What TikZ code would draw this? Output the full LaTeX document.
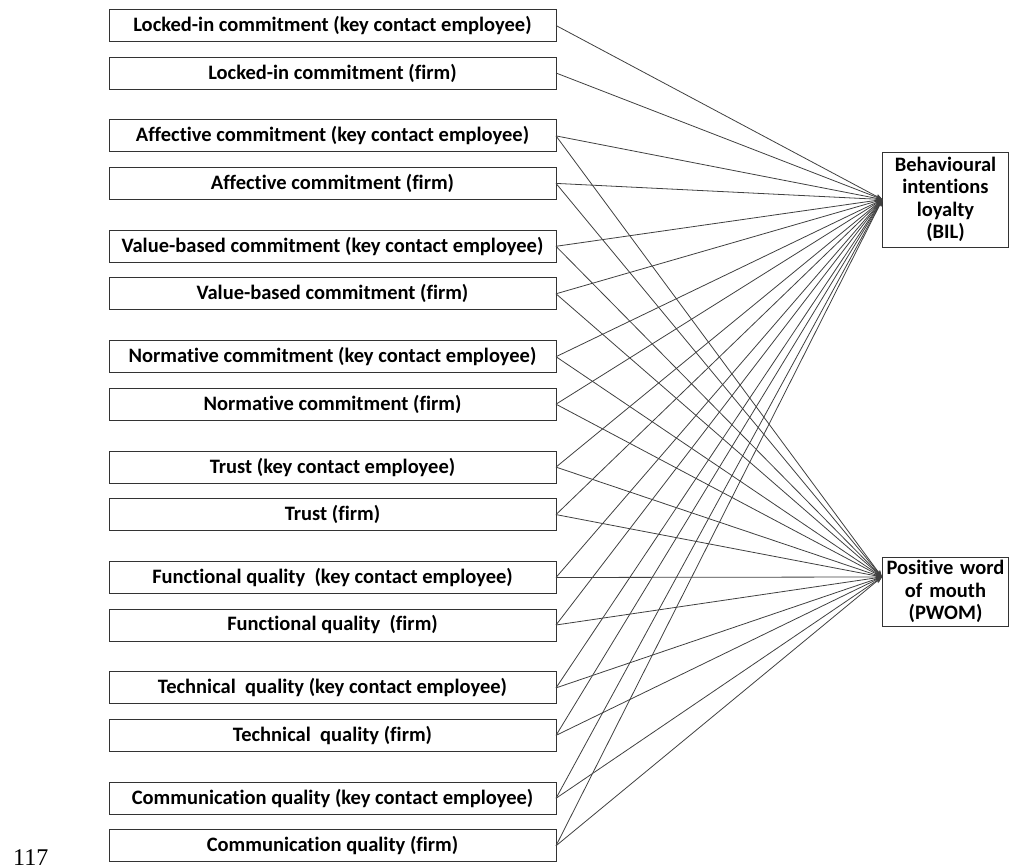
\documentclass[tikz,border=0pt]{standalone}
\usepackage{fontspec}
\setmainfont{Carlito}[Ligatures=NoCommon]
\newfontfamily\pagefont{Liberation Serif}
\usetikzlibrary{arrows.meta,positioning}
\tikzset{
  basebox/.style={rectangle,draw=black!80,line width=0.9pt,align=center,inner sep=0pt,outer sep=0pt,font=\fontsize{20.5}{22.5}\selectfont\bfseries},
  factorbox/.style={basebox,minimum width=447pt,minimum height=32pt},
  outcomebox/.style={basebox,minimum width=126pt,text width=126pt},
  linkarr/.style={->,>=Stealth,line width=0.8pt,color=black!75}
}

\begin{document}
\begin{tikzpicture}[x=1pt,y=1pt]
  \useasboundingbox (0,0) rectangle (1010,865);
  \node[factorbox] (lockKce) at (332.5,839.5) {Locked-in commitment (key contact employee)};
  \node[factorbox,below=15.5pt of lockKce] (lockFirm) {Locked-in commitment (firm)};
  \node[factorbox,below=30.9pt of lockFirm] (affKce) {Affective commitment (key contact employee)};
  \node[factorbox,below=15.5pt of affKce] (affFirm) {Affective commitment (firm)};
  \node[factorbox,below=30.9pt of affFirm] (valKce) {Value-based commitment (key contact employee)};
  \node[factorbox,below=15.5pt of valKce] (valFirm) {Value-based commitment (firm)};
  \node[factorbox,below=30.9pt of valFirm] (normKce) {Normative commitment (key contact employee)};
  \node[factorbox,below=15.5pt of normKce] (normFirm) {Normative commitment (firm)};
  \node[factorbox,below=30.9pt of normFirm] (trustKce) {Trust (key contact employee)};
  \node[factorbox,below=15.5pt of trustKce] (trustFirm) {Trust (firm)};
  \node[factorbox,below=30.9pt of trustFirm] (funcKce) {Functional quality~ (key contact employee)};
  \node[factorbox,below=15.5pt of funcKce] (funcFirm) {Functional quality~ (firm)};
  \node[factorbox,below=30.9pt of funcFirm] (techKce) {Technical~ quality (key contact employee)};
  \node[factorbox,below=15.5pt of techKce] (techFirm) {Technical~ quality (firm)};
  \node[factorbox,below=30.9pt of techFirm] (commKce) {Communication quality (key contact employee)};
  \node[factorbox,below=15.5pt of commKce] (commFirm) {Communication quality (firm)};

  \node[outcomebox,minimum height=95pt] (bil) at (945.5,665.5) {Behavioural\\intentions\\loyalty\\(BIL)};
  \node[outcomebox,minimum height=69pt] (pwom) at (945.5,273.5) {Positive word\\of mouth\\(PWOM)};
  \coordinate (pwomin) at (882,288);
  \node[font=\pagefont\fontsize{24}{24}\selectfont,anchor=base west,inner sep=0pt] (pagenum) at (13,-1) {117};

  % links to BIL
  \draw[linkarr] (lockKce.east)--(bil.west); \draw[linkarr] (lockFirm.east)--(bil.west);
  \draw[linkarr] (affKce.east)--(bil.west); \draw[linkarr] (affFirm.east)--(bil.west);
  \draw[linkarr] (valKce.east)--(bil.west); \draw[linkarr] (valFirm.east)--(bil.west);
  \draw[linkarr] (normKce.east)--(bil.west); \draw[linkarr] (normFirm.east)--(bil.west);
  \draw[linkarr] (trustKce.east)--(bil.west); \draw[linkarr] (trustFirm.east)--(bil.west);
  \draw[linkarr] (funcKce.east)--(bil.west); \draw[linkarr] (funcFirm.east)--(bil.west);
  \draw[linkarr] (techKce.east)--(bil.west); \draw[linkarr] (techFirm.east)--(bil.west);
  \draw[linkarr] (commKce.east)--(bil.west); \draw[linkarr] (commFirm.east)--(bil.west);
  % links to PWOM
  \draw[linkarr] (affKce.east)--(pwomin); \draw[linkarr] (affFirm.east)--(pwomin);
  \draw[linkarr] (valKce.east)--(pwomin); \draw[linkarr] (valFirm.east)--(pwomin);
  \draw[linkarr] (normKce.east)--(pwomin); \draw[linkarr] (normFirm.east)--(pwomin);
  \draw[linkarr] (trustKce.east)--(pwomin); \draw[linkarr] (trustFirm.east)--(pwomin);
  \draw[linkarr] (funcKce.east)--(pwomin); \draw[linkarr] (funcFirm.east)--(pwomin);
  \draw[linkarr] (techKce.east)--(pwomin); \draw[linkarr] (techFirm.east)--(pwomin);
  \draw[linkarr] (commKce.east)--(pwomin); \draw[linkarr] (commFirm.east)--(pwomin);
\end{tikzpicture}
\end{document}
